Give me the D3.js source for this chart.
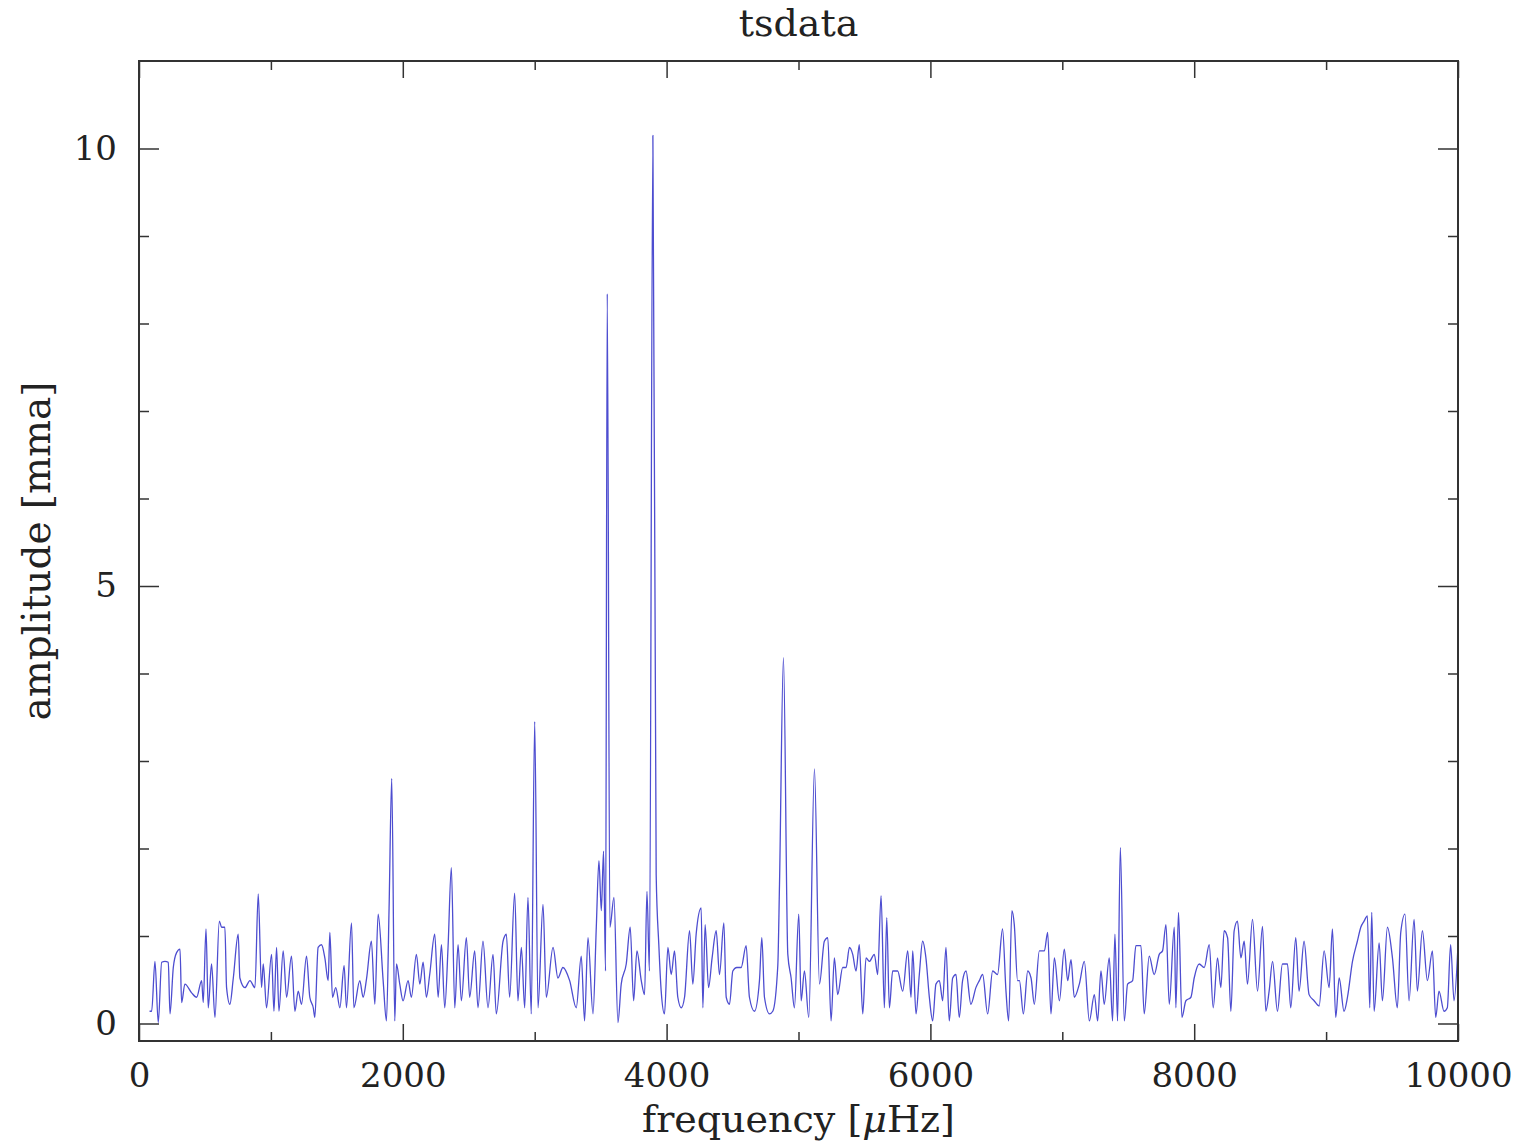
<!DOCTYPE html>
<meta charset="utf-8">
<html>
<head><title>tsdata</title></head>
<style>
body { margin: 0; background: #fff; }
text { font-family: "DejaVu Serif", serif; fill: #222; }
</style>
<body>
<svg id="chart" width="1520" height="1144"></svg>
<script src="https://d3js.org/d3.v7.min.js"></script>
<script>

// frequency in microHz, amplitude in mma (local maxima / minima)
var freq = [80,96,121,146,172,197,222,235,260,285,311,323,348,399,437,475,487,508,525,550,576,609,626,651,664,689,715,752,765,803,841,879,904,929,942,967,
  1005,1023,1043,1061,1093,1119,1156,1182,1207,1232,1270,1295,1321,1333,1358,1384,1409,1434,1447,1467,1492,1523,1555,1573,1611,1629,1674,1699,1725,1762,1788,1813,1851,1876,1896,1916,1939,1952,1977,
  2002,2040,2065,2103,2129,2154,2179,2204,2242,2268,2293,2318,2343,2368,2394,2419,2444,2482,2507,2545,2570,2608,2646,2684,2709,2760,2785,2810,2848,2873,2899,2924,2949,2974,
  3000,3025,3063,3088,3139,3176,3214,3265,3315,3353,3378,3404,3442,3467,3487,3505,3522,3537,3550,3570,3601,3631,3656,3694,3724,3750,3775,3808,3833,3851,3870,3896,3921,3941,3959,3984,
  4010,4035,4060,4085,4111,4136,4174,4199,4224,4262,4275,4292,4318,4345,4376,4401,4434,4452,4477,4502,4532,4565,4603,4628,4666,4704,4722,4742,4780,4805,4843,4856,4886,4919,4944,4969,
  5002,5020,5045,5078,5121,5159,5196,5222,5247,5272,5297,5335,5361,5386,5411,5436,5461,5487,5512,5537,5575,5600,5626,5651,5669,5689,5714,5752,5790,5828,5853,5866,5891,5916,5941,5966,5992,
  6017,6042,6068,6093,6118,6143,6169,6194,6219,6244,6270,6307,6345,6371,6396,6434,6472,6509,6547,6573,6593,6618,6636,6661,6675,6705,6738,6763,6788,6826,6864,6889,6914,6940,6978,
  7015,7041,7066,7091,7129,7167,7205,7243,7268,7293,7318,7356,7381,7399,7419,7440,7470,7495,7533,7558,7596,7621,7659,7697,7735,7760,7786,7811,7849,7861,7881,7907,7937,7975,
  8000,8038,8076,8114,8144,8177,8202,8227,8253,8278,8303,8328,8354,8379,8404,8442,8480,8518,8543,8568,8594,8631,8669,8707,8732,8770,8795,8833,8871,8909,8947,8985,
  9023,9048,9073,9099,9136,9162,9200,9237,9263,9288,9313,9331,9346,9364,9402,9427,9465,9503,9540,9566,9598,9629,9667,9692,9730,9768,9806,9831,9856,9894,9919,9944,9970,10000];

var amp = [0.14,0.14,0.71,0.01,0.70,0.71,0.70,0.11,0.64,0.81,0.85,0.24,0.45,0.35,0.30,0.49,0.24,1.08,0.18,0.68,0.07,1.17,1.10,1.10,0.41,0.22,0.52,1.02,0.52,0.41,0.49,0.41,1.48,0.41,0.68,0.18,
  0.79,0.14,0.87,0.14,0.83,0.30,0.77,0.14,0.37,0.22,0.77,0.30,0.18,0.07,0.87,0.90,0.75,0.49,1.04,0.30,0.41,0.18,0.66,0.18,1.15,0.18,0.49,0.30,0.51,0.94,0.22,1.25,0.49,0.03,1.32,2.80,0.03,0.68,0.45,
  0.26,0.49,0.30,0.79,0.45,0.70,0.30,0.56,1.02,0.30,0.90,0.18,0.87,1.78,0.18,0.90,0.26,0.98,0.30,0.83,0.18,0.94,0.18,0.79,0.11,0.94,1.02,0.30,1.49,0.26,0.87,0.18,1.44,0.11,
  3.45,0.18,1.36,0.30,0.87,0.52,0.64,0.49,0.18,0.77,0.03,0.98,0.11,1.10,1.86,1.29,1.97,0.60,8.34,1.10,1.44,0.01,0.45,0.68,1.10,0.26,0.83,0.49,0.33,1.51,0.60,10.15,1.70,0.90,0.37,0.11,
  0.87,0.56,0.83,0.30,0.18,0.30,1.06,0.45,1.02,1.32,0.18,1.13,0.41,0.75,1.06,0.56,1.15,0.30,0.22,0.60,0.64,0.64,0.89,0.30,0.14,0.49,0.98,0.30,0.11,0.14,0.66,1.59,4.18,0.79,0.52,0.18,
  1.25,0.26,0.60,0.07,2.91,0.45,0.94,0.98,0.03,0.75,0.33,0.64,0.64,0.87,0.79,0.60,0.90,0.11,0.75,0.71,0.79,0.56,1.46,0.18,1.21,0.18,0.60,0.60,0.37,0.83,0.30,0.83,0.11,0.56,0.94,0.75,0.30,
  0.03,0.45,0.49,0.26,0.87,0.03,0.52,0.56,0.07,0.49,0.60,0.22,0.41,0.49,0.56,0.11,0.60,0.56,1.08,0.37,0.03,1.29,1.13,0.49,0.49,0.11,0.60,0.52,0.22,0.83,0.83,1.04,0.11,0.75,0.26,
  0.85,0.49,0.73,0.30,0.45,0.71,0.03,0.33,0.03,0.60,0.22,0.75,0.03,1.02,0.03,2.01,0.03,0.45,0.49,0.89,0.89,0.11,0.77,0.56,0.79,0.83,1.13,0.22,1.10,0.18,1.27,0.07,0.26,0.30,
  0.52,0.68,0.64,0.90,0.18,0.75,0.41,1.06,0.98,0.14,1.06,1.17,0.75,0.94,0.45,1.19,0.37,1.11,0.14,0.37,0.71,0.14,0.68,0.68,0.18,0.98,0.37,0.94,0.33,0.26,0.20,0.83,
  0.41,1.08,0.07,0.52,0.14,0.30,0.71,0.94,1.10,1.17,1.23,0.18,1.27,0.14,0.92,0.26,1.10,0.75,0.18,1.04,1.25,0.26,1.19,0.37,1.06,0.49,0.83,0.07,0.37,0.14,0.18,0.90,0.26,0.90];

var xMajor = [0, 2000, 4000, 6000, 8000, 10000];
var xMinor = [1000, 3000, 5000, 7000, 9000];
var yMajor = [0, 5, 10];
var yMinor = [1, 2, 3, 4, 6, 7, 8, 9];

var svg = d3.select("#chart");
var box = {left: 139, right: 1458, top: 61, bottom: 1041};

var x = d3.scaleLinear().domain([0, 10000]).range([box.left, box.right]);
var y = d3.scaleLinear().domain([-0.2, 11]).range([box.bottom, box.top]);

var data = freq.map(function(f, i) { return [f, amp[i]]; });

// spectrum
svg.append("path")
  .datum(data)
  .attr("fill", "none")
  .attr("stroke", "#4d4dd0")
  .attr("stroke-width", 1.3)
  .attr("stroke-linejoin", "round")
  .attr("d", d3.line()
    .curve(d3.curveMonotoneX)
    .x(function(d) { return x(d[0]); })
    .y(function(d) { return y(d[1]); }));

// axes, ticks pointing inward
function addAxis(axis, tx, ty, labels) {
  var g = svg.append("g").attr("transform", "translate(" + tx + "," + ty + ")").call(axis);
  g.select(".domain").remove();
  g.selectAll("line").attr("stroke", "#333").attr("stroke-width", 1.5);
  g.selectAll("text").style("font-family", "DejaVu Serif, serif").style("font-size", "34px").attr("fill", "#222");
  if (!labels) g.selectAll("text").remove();
  return g;
}

addAxis(d3.axisBottom(x).tickValues(xMajor).tickSize(-17).tickPadding(22).tickFormat(d3.format("d")), 0, box.bottom, true);
addAxis(d3.axisBottom(x).tickValues(xMinor).tickSize(-9), 0, box.bottom, false);
addAxis(d3.axisTop(x).tickValues(xMajor).tickSize(-17), 0, box.top, false);
addAxis(d3.axisTop(x).tickValues(xMinor).tickSize(-9), 0, box.top, false);
addAxis(d3.axisLeft(y).tickValues(yMajor).tickSize(-20).tickPadding(22), box.left, 0, true);
addAxis(d3.axisLeft(y).tickValues(yMinor).tickSize(-10), box.left, 0, false);
addAxis(d3.axisRight(y).tickValues(yMajor).tickSize(-20), box.right, 0, false);
addAxis(d3.axisRight(y).tickValues(yMinor).tickSize(-10), box.right, 0, false);

// frame
svg.append("rect")
  .attr("x", box.left).attr("y", box.top)
  .attr("width", box.right - box.left).attr("height", box.bottom - box.top)
  .attr("fill", "none").attr("stroke", "#333").attr("stroke-width", 2);

// title and axis labels
svg.append("text")
  .attr("x", (box.left + box.right) / 2).attr("y", 36)
  .attr("text-anchor", "middle").style("font-size", "38px")
  .text("tsdata");

var xl = svg.append("text")
  .attr("x", (box.left + box.right) / 2).attr("y", 1132)
  .attr("text-anchor", "middle").style("font-size", "38px");
xl.append("tspan").text("frequency [");
xl.append("tspan").style("font-style", "italic").text("\u03bc");
xl.append("tspan").text("Hz]");

svg.append("text")
  .attr("transform", "translate(50," + ((box.top + box.bottom) / 2 + 0) + ") rotate(-90)")
  .attr("text-anchor", "middle").style("font-size", "39px")
  .text("amplitude [mma]");

</script>
</body>
</html>
